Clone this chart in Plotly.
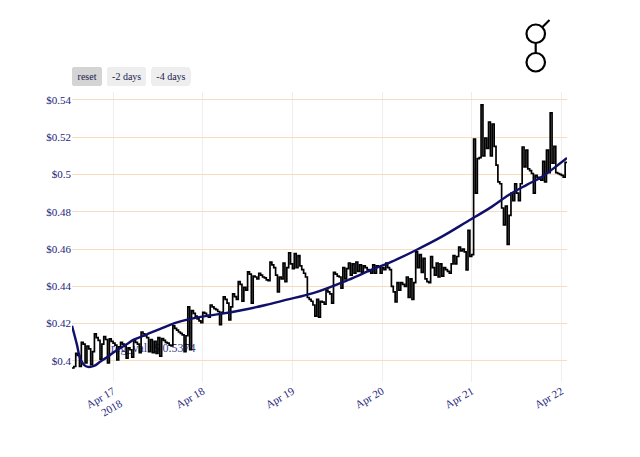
import pandas as pd
import plotly.graph_objects as go

# ---------------- data ----------------
series_start = "2018-04-16 13:00"   # first sample, 30-minute samples

price_apr16 = [0.3962, 0.3970, 0.4040, 0.4030, 0.3970, 0.4100, 0.4090, 0.3990,
               0.4080, 0.4065, 0.3980, 0.4050, 0.4145, 0.4125, 0.4110, 0.4010,
               0.4090, 0.4130, 0.4115, 0.3990, 0.4118, 0.4105]
price_apr17 = [0.4095, 0.4085, 0.4005, 0.4075, 0.4100, 0.4090, 0.4080, 0.4015,
               0.4070, 0.4060, 0.4020, 0.4110, 0.4100, 0.4090, 0.4045, 0.4155,
               0.4145, 0.4135, 0.4125, 0.4050, 0.4115, 0.4045, 0.4105, 0.4040,
               0.4125, 0.4025, 0.4120, 0.4110, 0.4100, 0.4095, 0.4085, 0.4080,
               0.4188, 0.4175, 0.4165, 0.4155, 0.4148, 0.4140, 0.4050, 0.4135,
               0.4290, 0.4060, 0.4270, 0.4255, 0.4240, 0.4225, 0.4215, 0.4205]
price_apr18 = [0.4260, 0.4255, 0.4245, 0.4235, 0.4300, 0.4290, 0.4280, 0.4275,
               0.4265, 0.4195, 0.4260, 0.4343, 0.4330, 0.4310, 0.4220, 0.4290,
               0.4360, 0.4345, 0.4330, 0.4425, 0.4410, 0.4320, 0.4395, 0.4380,
               0.4477, 0.4465, 0.4310, 0.4455, 0.4450, 0.4440, 0.4470, 0.4460,
               0.4450, 0.4445, 0.4435, 0.4430, 0.4530, 0.4515, 0.4500, 0.4460,
               0.4370, 0.4450, 0.4440, 0.4525, 0.4425, 0.4500, 0.4580, 0.4520]
price_apr19 = [0.4495, 0.4575, 0.4500, 0.4565, 0.4510, 0.4490, 0.4470, 0.4450,
               0.4340, 0.4330, 0.4320, 0.4300, 0.4240, 0.4330, 0.4235, 0.4320,
               0.4315, 0.4305, 0.4380, 0.4370, 0.4360, 0.4310, 0.4475, 0.4465,
               0.4455, 0.4450, 0.4390, 0.4500, 0.4440, 0.4495, 0.4525, 0.4460,
               0.4520, 0.4470, 0.4530, 0.4480, 0.4515, 0.4475, 0.4510, 0.4500,
               0.4490, 0.4480, 0.4470, 0.4515, 0.4470, 0.4510, 0.4505, 0.4470]
price_apr20 = [0.4500, 0.4490, 0.4525, 0.4500, 0.4490, 0.4400, 0.4370, 0.4316,
               0.4420, 0.4380, 0.4420, 0.4410, 0.4400, 0.4450, 0.4340, 0.4440,
               0.4330, 0.4420, 0.4585, 0.4500, 0.4570, 0.4475, 0.4550, 0.4440,
               0.4425, 0.4420, 0.4560, 0.4500, 0.4460, 0.4525, 0.4450, 0.4520,
               0.4455, 0.4500, 0.4490, 0.4480, 0.4470, 0.4520, 0.4565, 0.4520,
               0.4560, 0.4610, 0.4590, 0.4600, 0.4585, 0.4488, 0.4700, 0.4560]
price_apr21 = [0.4570, 0.5190, 0.4900, 0.5085, 0.5090, 0.5373, 0.5100, 0.5195,
               0.5140, 0.5280, 0.5100, 0.5270, 0.5150, 0.5050, 0.4960, 0.4950,
               0.4820, 0.4730, 0.4830, 0.4625, 0.4780, 0.4900, 0.4860, 0.4950,
               0.4900, 0.4860, 0.4950, 0.5147, 0.5040, 0.5130, 0.5030, 0.5020,
               0.5005, 0.4900, 0.4995, 0.4985, 0.4975, 0.4970, 0.5070, 0.4960,
               0.5130, 0.5010, 0.5330, 0.5060, 0.5150, 0.5010, 0.5005, 0.5000]
price_apr22 = [0.4995, 0.4985, 0.5065, 0.5060]

reg_times = ["2018-04-16 13:00", "2018-04-16 14:20", "2018-04-16 15:08",
             "2018-04-16 16:13", "2018-04-16 17:17", "2018-04-16 18:53",
             "2018-04-16 20:30", "2018-04-16 23:12", "2018-04-17 01:04",
             "2018-04-17 03:46", "2018-04-17 05:23", "2018-04-17 08:04",
             "2018-04-17 09:56", "2018-04-17 12:38", "2018-04-17 16:40",
             "2018-04-17 23:23", "2018-04-18 04:45", "2018-04-18 10:40",
             "2018-04-18 16:51", "2018-04-18 22:14", "2018-04-19 05:45",
             "2018-04-19 14:53", "2018-04-19 21:04", "2018-04-20 02:27",
             "2018-04-20 09:10", "2018-04-20 15:53", "2018-04-20 22:36",
             "2018-04-21 05:18", "2018-04-21 09:54", "2018-04-21 14:43",
             "2018-04-21 18:46", "2018-04-21 22:48", "2018-04-22 01:30"]
reg_values = [0.4188, 0.4086, 0.4016, 0.3979, 0.3968, 0.3973, 0.3995, 0.4032,
              0.4059, 0.4091, 0.4113, 0.4134, 0.4150, 0.4172, 0.4204, 0.4236,
              0.4252, 0.4273, 0.4300, 0.4327, 0.4365, 0.4434, 0.4488, 0.4531,
              0.4595, 0.4665, 0.4745, 0.4826, 0.4890, 0.4944, 0.4987, 0.5046,
              0.5088]

reg_label = "reg_val: $ 0.5374"
reg_label_time = "2018-04-17 10:45"
reg_label_value = 0.4062

y_range = [0.3887, 0.5442]
y_dtick = 0.02

# ---------------- figure ----------------
price = (price_apr16 + price_apr17 + price_apr18 + price_apr19 +
         price_apr20 + price_apr21 + price_apr22)
times = pd.date_range(series_start, periods=len(price), freq="30min")

SERIF = "Liberation Serif, Times New Roman, serif"
NAVY = "#1c1c78"

fig = go.Figure()
fig.add_trace(go.Scatter(
    x=[reg_label_time], y=[reg_label_value], mode="text", text=[reg_label],
    textfont=dict(family=SERIF, size=12, color="#3a3a8e"),
    hoverinfo="skip", showlegend=False))
fig.add_trace(go.Scatter(
    x=times, y=price, mode="lines",
    line=dict(color="black", width=1.7, shape="hv"),
    showlegend=False, name="price"))
fig.add_trace(go.Scatter(
    x=pd.to_datetime(reg_times), y=reg_values, mode="lines",
    line=dict(color="#10106a", width=2.4, shape="spline"),
    showlegend=False, name="regression"))

# page body has an 8px margin; positions below are window pixels
OFF = 8
L, T, PW, PH = 72, 92, 495, 290
W, H = 640 - 2 * OFF, 457 - 2 * OFF


def px(x):
    return (x - L) / PW


def py(y):
    return (T + PH - y) / PH


logo_line = dict(color="black", width=2.2)
shapes = [
    dict(type="circle", xref="paper", yref="paper", x0=px(526.5), x1=px(545),
         y0=py(43), y1=py(24.5), line=logo_line),
    dict(type="circle", xref="paper", yref="paper", x0=px(526.5), x1=px(545),
         y0=py(71.5), y1=py(53), line=logo_line),
    dict(type="line", xref="paper", yref="paper", x0=px(535.7), x1=px(535.7),
         y0=py(43), y1=py(53), line=logo_line),
    dict(type="line", xref="paper", yref="paper", x0=px(542.5), x1=px(549.5),
         y0=py(27), y1=py(20), line=logo_line),
]

fig.update_layout(
    width=W, height=H,
    margin=dict(l=L - OFF, r=W - (L - OFF) - PW, t=T - OFF,
                b=H - (T - OFF) - PH),
    paper_bgcolor="white", plot_bgcolor="white",
    font=dict(family=SERIF, size=11, color=NAVY),
    showlegend=False,
    shapes=shapes,
    xaxis=dict(
        type="date",
        showgrid=True, gridcolor="#eeeeee", gridwidth=1,
        zeroline=False, showline=False,
        tickangle=-30,
        tickfont=dict(family=SERIF, size=11, color=NAVY),
        rangeselector=dict(
            buttons=[
                dict(step="all", label="reset"),
                dict(count=2, label="-2 days", step="day", stepmode="backward"),
                dict(count=4, label="-4 days", step="day", stepmode="backward"),
            ],
            x=0, y=1.02,
            font=dict(family=SERIF, size=10, color="#1a1a50"),
        ),
    ),
    yaxis=dict(
        range=y_range, dtick=y_dtick, tick0=0,
        tickprefix="$",
        showgrid=True, gridcolor="#f9dcbd", gridwidth=1,
        zeroline=False, showline=False,
        tickfont=dict(family=SERIF, size=11, color=NAVY),
    ),
)

fig.write_html("out.html")
